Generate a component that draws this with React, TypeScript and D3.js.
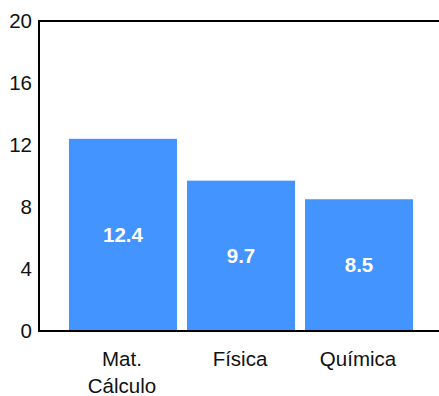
import React from "react";
import * as d3 from "d3";

const categories: string[][] = [["Mat.", "Cálculo"], ["Física"], ["Química"]];
const values: number[] = [12.4, 9.7, 8.5];
const yTicks: number[] = [0, 4, 8, 12, 16, 20];

export default function App() {
  const width = 439;
  const height = 396;
  const left = 39;
  const top = 21;
  const bottom = 331;
  const x = d3.scaleBand<number>()
    .domain(values.map((_, i) => i))
    .range([left, 443])
    .paddingInner(10 / 118)
    .paddingOuter(0.254);
  const y = d3.scaleLinear().domain([0, 20]).range([bottom, top]);
  const font = "Liberation Sans, Arial, sans-serif";
  return (
    <svg width={width} height={height} style={{ position: "absolute", left: 0, top: 0 }}>
      {values.map((v, i) => (
        <g key={i}>
          <rect x={x(i)!} y={y(v)} width={x.bandwidth()} height={bottom - y(v)} fill="#4394FF" />
          <text x={x(i)! + x.bandwidth() / 2} y={(y(v) + bottom) / 2} dy="0.35em" textAnchor="middle"
            fill="#fff" fontWeight="bold" fontSize={20.5} fontFamily={font}>{v}</text>
          {categories[i].map((line, j) => (
            <text key={j} x={x(i)! + x.bandwidth() / 2 - 1} y={366 + j * 27} textAnchor="middle"
              fill="#111" fontSize={20.5} fontFamily={font}>{line}</text>
          ))}
        </g>
      ))}
      <line x1={left} x2={width} y1={top} y2={top} stroke="#000" strokeWidth={2} />
      <line x1={left} x2={width} y1={bottom} y2={bottom} stroke="#000" strokeWidth={2} />
      <line x1={left} x2={left} y1={top - 1} y2={bottom + 1} stroke="#000" strokeWidth={2} />
      {yTicks.map((t) => (
        <text key={t} x={32} y={y(t)} dy="0.35em" textAnchor="end" fill="#111" fontSize={20.5} fontFamily={font}>{t}</text>
      ))}
    </svg>
  );
}
